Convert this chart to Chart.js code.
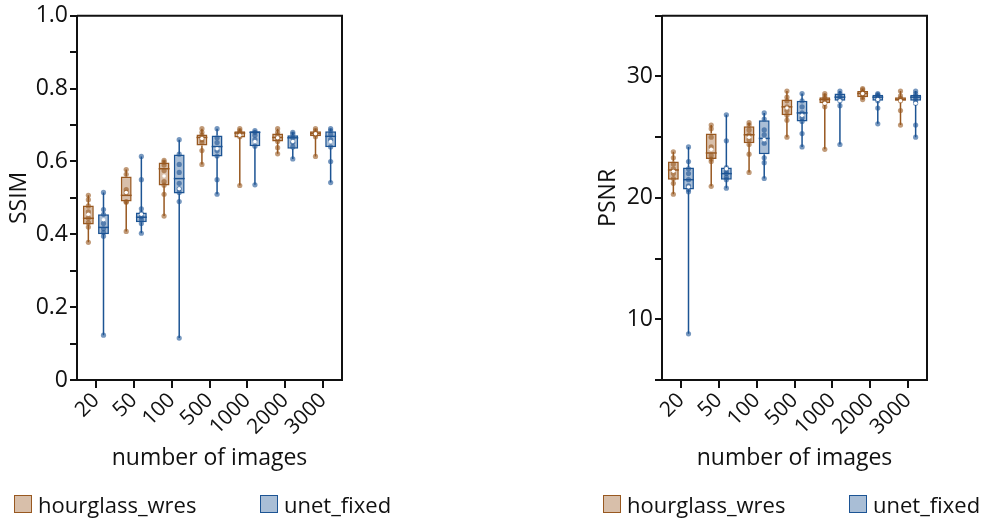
<!DOCTYPE html>
<html>
<head>
<meta charset="utf-8">
<script src="https://cdn.jsdelivr.net/npm/chart.js@4.4.1/dist/chart.umd.min.js"></script>
<style>
  body { margin: 0; background: #fff; width: 986px; height: 522px; overflow: hidden; position: relative; font-family: "Open Sans", sans-serif; }
  .panel { position: absolute; top: 0; height: 522px; }
  .legend { position: absolute; top: 489px; left: 14px; display: flex; font-size: 22px; color: #111; }
  .item { display: flex; align-items: center; width: 246px; }
  .item span.box { width: 16px; height: 16px; border: 1.5px solid; margin-right: 6px; }
</style>
</head>
<body>
<div class="panel" style="left:0;width:420px"><canvas id="ssimChart" width="420" height="522"></canvas><div class="legend" id="ssimLegend"></div></div>
<div class="panel" style="left:589px;width:397px"><canvas id="psnrChart" width="397" height="522"></canvas><div class="legend" id="psnrLegend"></div></div>
<script>
// categories
const labels = ["20", "50", "100", "500", "1000", "2000", "3000"];
const seriesNames = ["hourglass_wres", "unet_fixed"];

// box stats per category: [min, q1, median, q3, max]
const ssimHourglass = [
  [0.378, 0.427, 0.444, 0.479, 0.507],
  [0.408, 0.490, 0.507, 0.559, 0.578],
  [0.450, 0.534, 0.580, 0.597, 0.603],
  [0.592, 0.644, 0.666, 0.674, 0.690],
  [0.534, 0.666, 0.678, 0.683, 0.690],
  [0.621, 0.655, 0.666, 0.677, 0.690],
  [0.614, 0.669, 0.677, 0.683, 0.690]
];
const ssimUnet = [
  [0.123, 0.400, 0.419, 0.455, 0.515],
  [0.403, 0.433, 0.447, 0.460, 0.614],
  [0.115, 0.512, 0.553, 0.619, 0.660],
  [0.510, 0.614, 0.641, 0.671, 0.690],
  [0.536, 0.642, 0.680, 0.683, 0.685],
  [0.607, 0.635, 0.665, 0.672, 0.680],
  [0.542, 0.639, 0.669, 0.683, 0.690]
];
const psnrHourglass = [
  [20.3, 21.5, 22.3, 23.0, 23.8],
  [20.95, 23.2, 23.7, 25.3, 26.0],
  [22.1, 24.5, 25.2, 25.9, 26.2],
  [25.0, 26.8, 27.5, 28.1, 28.8],
  [24.0, 27.8, 28.1, 28.3, 28.6],
  [28.1, 28.3, 28.6, 28.8, 29.0],
  [26.0, 28.0, 28.1, 28.3, 28.8]
];
const psnrUnet = [
  [8.8, 20.7, 21.5, 22.5, 24.2],
  [20.8, 21.5, 22.0, 22.5, 26.85],
  [21.6, 23.6, 24.9, 26.4, 27.0],
  [24.2, 26.3, 27.0, 28.0, 28.6],
  [24.4, 28.0, 28.3, 28.6, 28.8],
  [26.1, 28.0, 28.3, 28.5, 28.6],
  [25.0, 28.0, 28.3, 28.5, 28.8]
];

// mean markers (white dots)
const ssimHourglassMean = [0.455, 0.515, 0.560, 0.663, 0.672, 0.665, 0.676];
const ssimUnetMean = [0.440, 0.455, 0.525, 0.635, 0.655, 0.655, 0.655];
const psnrHourglassMean = [22.2, 24.0, 25.0, 27.4, 27.8, 28.6, 28.0];
const psnrUnetMean = [20.9, 22.4, 24.8, 26.8, 28.0, 28.1, 27.8];

// individual samples
const ssimHourglassPts = [
  [0.507, 0.495, 0.478, 0.462, 0.445, 0.432, 0.420, 0.378],
  [0.578, 0.565, 0.523, 0.515, 0.490, 0.488, 0.408],
  [0.603, 0.598, 0.590, 0.575, 0.545, 0.535, 0.510, 0.450],
  [0.690, 0.680, 0.672, 0.660, 0.652, 0.630, 0.592],
  [0.690, 0.685, 0.680, 0.676, 0.668, 0.534],
  [0.690, 0.680, 0.672, 0.662, 0.655, 0.638, 0.621],
  [0.690, 0.685, 0.678, 0.674, 0.668, 0.614]
];
const ssimUnetPts = [
  [0.515, 0.468, 0.455, 0.430, 0.415, 0.405, 0.395, 0.123],
  [0.614, 0.550, 0.470, 0.458, 0.448, 0.440, 0.430, 0.403],
  [0.660, 0.620, 0.592, 0.570, 0.540, 0.525, 0.515, 0.490, 0.115],
  [0.690, 0.665, 0.652, 0.630, 0.615, 0.550, 0.510],
  [0.685, 0.680, 0.672, 0.660, 0.642, 0.536],
  [0.680, 0.675, 0.665, 0.652, 0.640, 0.607],
  [0.690, 0.685, 0.675, 0.660, 0.640, 0.600, 0.542]
];
const psnrHourglassPts = [
  [23.8, 23.3, 22.8, 22.4, 22.0, 21.6, 21.2, 20.3],
  [26.0, 25.7, 25.0, 24.2, 23.5, 23.2, 23.0, 20.95],
  [26.2, 26.0, 25.6, 25.2, 24.8, 24.4, 23.6, 22.1],
  [28.8, 28.3, 28.0, 27.5, 27.2, 26.8, 26.4, 25.0],
  [28.6, 28.4, 28.2, 28.0, 27.8, 27.5, 24.0],
  [29.0, 28.9, 28.7, 28.5, 28.3, 28.1],
  [28.8, 28.4, 28.2, 28.0, 27.2, 26.0]
];
const psnrUnetPts = [
  [24.2, 23.0, 22.4, 22.0, 21.5, 21.0, 20.7, 20.5, 8.8],
  [26.85, 24.7, 22.5, 22.2, 22.0, 21.7, 21.5, 20.8],
  [27.0, 26.5, 25.6, 25.2, 24.5, 23.3, 22.9, 21.6],
  [28.6, 28.0, 27.5, 27.0, 26.6, 26.3, 25.3, 24.2],
  [28.8, 28.6, 28.4, 28.2, 28.0, 27.6, 24.4],
  [28.6, 28.5, 28.4, 28.2, 28.0, 27.4, 26.1],
  [28.8, 28.6, 28.4, 28.2, 28.0, 27.8, 26.0, 25.0]
];

const brown = "rgb(152,88,32)";
const brownFill = "rgba(152,88,32,0.38)";
const blue = "rgb(28,84,148)";
const blueFill = "rgba(28,84,148,0.38)";
const brownDot = "rgba(152,88,32,0.6)";
const blueDot = "rgba(28,84,148,0.6)";

// whiskers under the boxes, medians/points/means/frame on top
const boxPlugin = {
  id: "boxes",
  beforeDatasetsDraw(chart) {
    const ctx = chart.ctx, y = chart.scales.y;
    chart.data.datasets.forEach((ds, di) => {
      chart.getDatasetMeta(di).data.forEach((bar, i) => {
        const s = ds.stats[i];
        ctx.save();
        ctx.strokeStyle = ds.borderColor;
        ctx.lineWidth = 1.5;
        ctx.beginPath();
        ctx.moveTo(bar.x, y.getPixelForValue(s[0]));
        ctx.lineTo(bar.x, y.getPixelForValue(s[1]));
        ctx.moveTo(bar.x, y.getPixelForValue(s[3]));
        ctx.lineTo(bar.x, y.getPixelForValue(s[4]));
        ctx.stroke();
        ctx.restore();
      });
    });
  },
  afterDatasetsDraw(chart) {
    const ctx = chart.ctx, y = chart.scales.y, a = chart.chartArea;
    chart.data.datasets.forEach((ds, di) => {
      chart.getDatasetMeta(di).data.forEach((bar, i) => {
        const s = ds.stats[i];
        ctx.save();
        // median
        ctx.strokeStyle = ds.borderColor;
        ctx.lineWidth = 1.5;
        ctx.beginPath();
        const ym = y.getPixelForValue(s[2]);
        ctx.moveTo(bar.x - bar.width / 2, ym);
        ctx.lineTo(bar.x + bar.width / 2, ym);
        ctx.stroke();
        // samples
        ctx.fillStyle = ds.dotColor;
        ds.pts[i].forEach(v => {
          ctx.beginPath();
          ctx.arc(bar.x, y.getPixelForValue(v), 2.6, 0, Math.PI * 2);
          ctx.fill();
        });
        // mean
        ctx.fillStyle = "#fff";
        ctx.beginPath();
        ctx.arc(bar.x, y.getPixelForValue(ds.means[i]), 1.8, 0, Math.PI * 2);
        ctx.fill();
        ctx.restore();
      });
    });
    // top + right frame
    ctx.save();
    ctx.strokeStyle = "#111";
    ctx.lineWidth = 2;
    ctx.beginPath();
    ctx.moveTo(a.left, a.top);
    ctx.lineTo(a.right, a.top);
    ctx.lineTo(a.right, a.bottom);
    ctx.stroke();
    ctx.restore();
  }
};

function makeChart(id, legendId, yTitle, hg, un, hgMean, unMean, hgPts, unPts, yMin, yMax, step, labelFn, yWidth, padRight) {
  const chart = new Chart(document.getElementById(id), {
    type: "bar",
    data: {
      labels: labels,
      datasets: [
        {
          label: seriesNames[0],
          data: hg.map(s => [s[1], s[3]]),
          stats: hg, means: hgMean, pts: hgPts, dotColor: brownDot,
          backgroundColor: brownFill, borderColor: brown, borderWidth: 1.5, borderSkipped: false
        },
        {
          label: seriesNames[1],
          data: un.map(s => [s[1], s[3]]),
          stats: un, means: unMean, pts: unPts, dotColor: blueDot,
          backgroundColor: blueFill, borderColor: blue, borderWidth: 1.5, borderSkipped: false
        }
      ]
    },
    options: {
      responsive: false,
      animation: false,
      categoryPercentage: 0.8,
      barPercentage: 0.72,
      layout: { padding: { left: 6, right: padRight, top: 15, bottom: 36 } },
      plugins: { legend: { display: false }, tooltip: { enabled: false } },
      scales: {
        x: {
          offset: true,
          grid: { offset: false, drawOnChartArea: false, tickLength: 8, color: "#111", lineWidth: 2 },
          border: { color: "#111", width: 2 },
          ticks: { autoSkip: false, minRotation: 45, maxRotation: 45, padding: 0, color: "#111", font: { family: "Open Sans", size: 21 } },
          title: { display: true, text: "number of images", color: "#111", padding: { top: 0, bottom: 14 }, font: { family: "Open Sans", size: 23 } },
          afterFit: s => { s.height = 106; }
        },
        y: {
          min: yMin, max: yMax,
          grid: { drawOnChartArea: false, tickLength: 7, color: "#111", lineWidth: 2 },
          border: { color: "#111", width: 2 },
          ticks: { stepSize: step, autoSkip: false, padding: 2, color: "#111", font: { family: "Open Sans", size: 23 }, callback: labelFn },
          title: { display: true, text: yTitle, color: "#111", padding: 0, font: { family: "Open Sans", size: 23 } },
          afterFit: s => { s.width = yWidth; }
        }
      }
    },
    plugins: [boxPlugin]
  });

  // legend from the chart's own datasets
  const leg = document.getElementById(legendId);
  chart.data.datasets.forEach(ds => {
    const item = document.createElement("div");
    item.className = "item";
    const box = document.createElement("span");
    box.className = "box";
    box.style.borderColor = ds.borderColor;
    box.style.background = ds.backgroundColor;
    item.appendChild(box);
    item.appendChild(document.createTextNode(ds.label));
    leg.appendChild(item);
  });
  return chart;
}

makeChart("ssimChart", "ssimLegend", "SSIM", ssimHourglass, ssimUnet, ssimHourglassMean, ssimUnetMean,
  ssimHourglassPts, ssimUnetPts, 0, 1, 0.1,
  (v, i) => i % 2 === 0 ? (v === 0 ? "0" : v.toFixed(1)) : "", 71, 78);

makeChart("psnrChart", "psnrLegend", "PSNR", psnrHourglass, psnrUnet, psnrHourglassMean, psnrUnetMean,
  psnrHourglassPts, psnrUnetPts, 5, 35, 5,
  v => v % 10 === 0 ? String(v) : "", 67, 59);
</script>
</body>
</html>
